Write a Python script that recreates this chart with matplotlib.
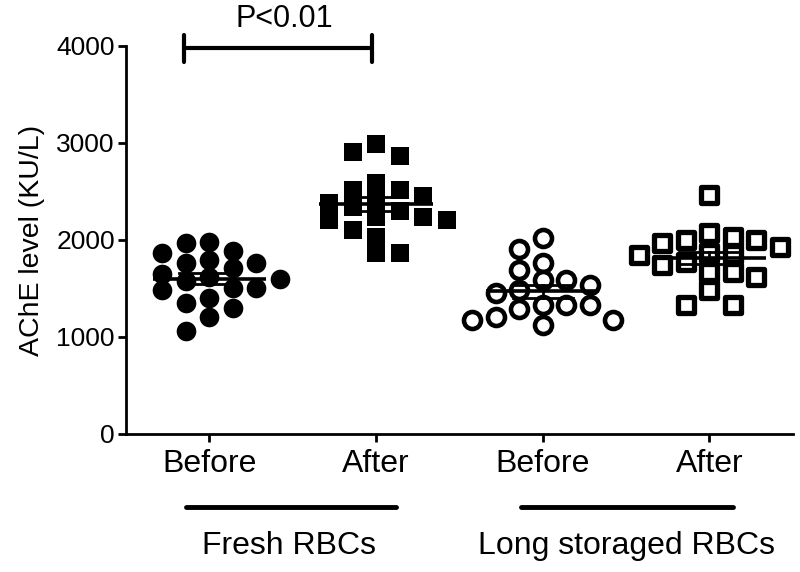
import numpy as np
import matplotlib
matplotlib.use("Agg")
import matplotlib.pyplot as plt

plt.rcParams.update({"font.family": ["Liberation Sans", "DejaVu Sans"]})

# ---------- data ----------
groups = ["Before", "After", "Before", "After"]
fresh_before = [1979, 1969, 1887, 1866, 1794, 1763, 1763, 1711, 1650, 1620,
                1600, 1580, 1505, 1505, 1485, 1402, 1350, 1299, 1206, 1062]
fresh_after = [2990, 2907, 2866, 2588, 2515, 2515, 2454, 2412, 2380, 2340,
               2300, 2237, 2237, 2206, 2206, 2103, 2031, 1866, 1866]
stored_before = [2021, 1907, 1763, 1691, 1588, 1588, 1536, 1480, 1450, 1330,
                 1330, 1330, 1289, 1206, 1175, 1175, 1124]
stored_after = [2464, 2072, 2031, 2000, 2000, 1969, 1928, 1870, 1860, 1850,
                1773, 1742, 1670, 1670, 1619, 1485, 1330, 1330]
series = [fresh_before, fresh_after, stored_before, stored_after]
group_names = ["Fresh RBCs", "Long storaged RBCs"]
p_text = "P<0.01"

# ---------- figure ----------
fig = plt.figure(figsize=(8, 5.72), dpi=100)
ax = fig.add_axes([0.1575, 0.2413, 0.8335, 0.6783])
ax.set_xlim(0.5, 4.5)
ax.set_ylim(0, 4000)

px_x = 0.8335 * 800 / 4.0      # pixels per x unit
px_y = 0.6783 * 572 / 4000.0   # pixels per y unit


def columns(vals, step=23.5, h=16.0):
    # column scatter: each point goes to the nearest free column slot
    ys = np.asarray(vals, float) * px_y
    placed = []
    offs = np.zeros(len(ys))
    cands = [0.0]
    for k in range(1, 6):
        cands += [k * step, -k * step]
    for n, i in enumerate(np.argsort(-ys)):
        y = ys[i]
        order = cands if n % 2 == 0 else [-c for c in cands]
        for c in order:
            if all(abs(c - qx) >= step - 1e-6 or abs(y - qy) >= h for qx, qy in placed):
                offs[i] = c
                placed.append((c, y))
                break
    return offs / px_x


styles = [
    dict(marker="o", s=200, facecolor="black", edgecolor="black", linewidth=0),
    dict(marker="s", s=175, facecolor="black", edgecolor="black", linewidth=0),
    dict(marker="o", s=150, facecolor="white", edgecolor="black", linewidth=3.3),
    dict(marker="s", s=120, facecolor="white", edgecolor="black", linewidth=3.8),
]

for i, vals in enumerate(series):
    pos = i + 1
    x = pos + columns(vals)
    ax.scatter(x, vals, zorder=3, clip_on=False, **styles[i])
    m = np.mean(vals)
    sem = np.std(vals, ddof=1) / np.sqrt(len(vals))
    ax.plot([pos - 0.34, pos + 0.34], [m, m], color="black", lw=2.6, zorder=4,
            solid_capstyle="butt")
    ax.plot([pos, pos], [m - sem, m + sem], color="black", lw=2.0, zorder=4)
    for yy in (m - sem, m + sem):
        ax.plot([pos - 0.18, pos + 0.18], [yy, yy], color="black", lw=2.0, zorder=4)

# axes styling
for s in ["top", "right"]:
    ax.spines[s].set_visible(False)
for s in ["left", "bottom"]:
    ax.spines[s].set_linewidth(2.0)
ax.set_yticks([0, 1000, 2000, 3000, 4000])
ax.set_xticks([1, 2, 3, 4])
ax.set_xticklabels(groups, fontsize=23)
ax.tick_params(axis="y", labelsize=19, width=2.0, length=6, pad=2)
ax.tick_params(axis="x", width=2.0, length=6, pad=5)
ax.set_ylabel("AChE level (KU/L)", fontsize=20.5, labelpad=8)

# significance bracket
y_sig = 3980
ax.plot([0.85, 1.976], [y_sig, y_sig], color="black", lw=3, clip_on=False,
        solid_capstyle="round")
for xx in (0.85, 1.976):
    ax.plot([xx, xx], [3830, 4110], color="black", lw=3, clip_on=False,
            solid_capstyle="round")
ax.text(1.45, 4280, p_text, ha="center", va="center", fontsize=22, clip_on=False)

# group underlines and labels
ax.plot([0.86, 2.12], [-750, -750], color="black", lw=3.5, clip_on=False,
        solid_capstyle="round")
ax.plot([2.87, 4.14], [-750, -750], color="black", lw=3.5, clip_on=False,
        solid_capstyle="round")
ax.text(1.48, -1150, group_names[0], ha="center", va="center", fontsize=23)
ax.text(3.5, -1150, group_names[1], ha="center", va="center", fontsize=23)

fig.savefig("out.png", dpi=100)
